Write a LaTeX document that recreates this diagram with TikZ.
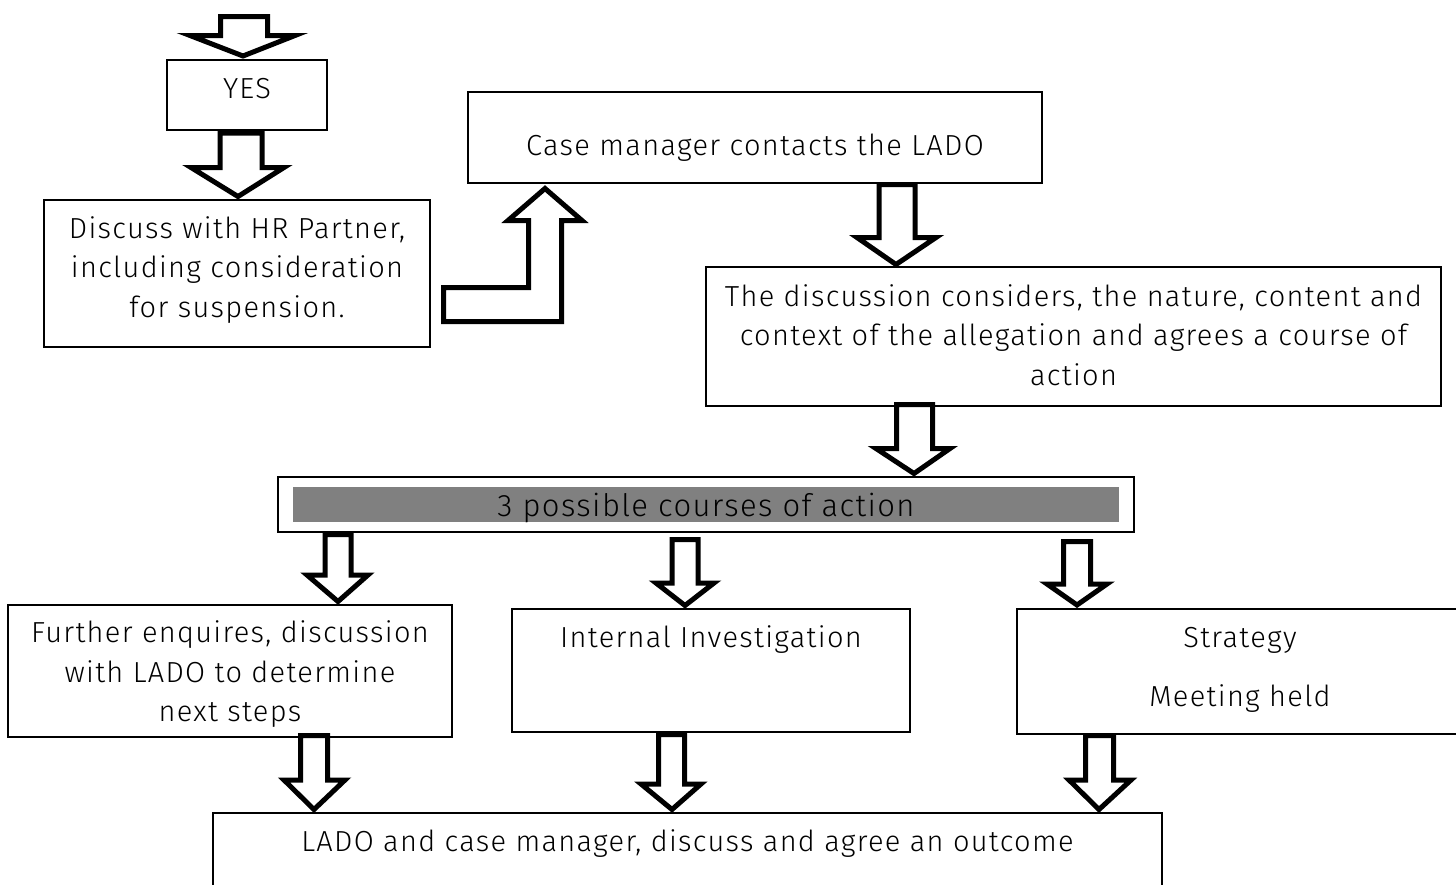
\documentclass[tikz,border=0pt]{standalone}
\usepackage{fontspec}
\setmainfont[LetterSpace=4.5]{Fira Sans Light}
\definecolor{barfill}{RGB}{128,128,128}
\newcommand\bdown[8]{\draw[barrow] (#1,#3) -- (#2,#3) -- (#2,#4) -- (#6,#4) -- (#7,#8) -- (#5,#4) -- (#1,#4) -- cycle;}
\begin{document}
\begin{tikzpicture}[x=1pt,y=-1pt,
  box/.style={draw,line width=1.3pt,inner sep=0pt,outer sep=0pt,fill=white},
  txt/.style={inner sep=0pt,anchor=base,align=center,font=\fontsize{29}{39.5}\selectfont},
  barrow/.style={draw,line width=5pt,line join=miter,miter limit=20,fill=white}]
\useasboundingbox (0,0) rectangle (1456,884);
\clip (0,0) rectangle (1456,884);
\fill[white] (0,0) rectangle (1456,884);
% boxes
\node[box,minimum width=160pt,minimum height=70pt] (yes) at (247,95) {};
\node[box,minimum width=386pt,minimum height=147pt] (discuss) at (237,273.5) {};
\node[box,minimum width=574pt,minimum height=91pt] (case) at (755,137.5) {};
\node[box,minimum width=735pt,minimum height=139pt] (discn) at (1073.5,336.5) {};
\node[box,minimum width=856pt,minimum height=55pt] (three) at (706,504.5) {};
\node[draw=none,fill=barfill,inner sep=0pt,minimum width=826pt,minimum height=35pt] (bar) at (706,504.5) {};
\node[box,minimum width=444pt,minimum height=132pt] (further) at (230,671) {};
\node[box,minimum width=398pt,minimum height=123pt] (internal) at (711,670.5) {};
\node[box,minimum width=446pt,minimum height=125pt] (strategy) at (1240,671.5) {};
\node[box,minimum width=949pt,minimum height=87pt] (lado) at (687.5,856.5) {};
% texts (base anchor = baseline of last line)
\node[txt] (tyes) at (247,98) {YES};
\node[txt] (tdiscuss) at (237,317) {Discuss with HR Partner,\\including consideration\\for suspension.};
\node[txt] (tcase) at (755,155) {Case manager contacts the LADO};
\node[txt] (tdiscn) at (1073.5,385) {The discussion considers, the nature, content and\\context of the allegation and agrees a course of\\action};
\node[txt,font=\fontsize{31}{34}\selectfont] (tthree) at (706,516.5) {3 possible courses of action};
\node[txt] (tfurther) at (230,721.5) {Further enquires, discussion\\with LADO to determine\\next steps};
\node[txt] (tinternal) at (711,647.5) {Internal Investigation};
\node[txt,font=\fontsize{29}{59}\selectfont] (tstrategy) at (1240,706.5) {Strategy\\Meeting held};
\node[txt] (tlado) at (687.5,851.5) {LADO and case manager, discuss and agree an outcome};
% block arrows
\bdown{220.5}{267.5}{16.5}{35.5}{190}{295}{243}{56}
\bdown{220}{262}{133}{167.5}{191}{284}{238}{196.5}
\bdown{879}{915}{184.5}{237.5}{857}{936}{896}{264.5}
\bdown{896.5}{932.5}{404.5}{448.5}{876}{950}{914}{473.5}
\bdown{325}{351}{534.5}{575}{307}{368}{338}{601.5}
\bdown{300.5}{327.5}{735.5}{780}{284}{345}{314}{809.5}
\bdown{672}{698}{539.5}{583}{656}{714}{685}{605.5}
\bdown{658.5}{684.5}{734.5}{784}{641}{701}{672}{809.5}
\bdown{1063.5}{1090.5}{541.5}{584}{1047}{1107}{1077}{605}
\bdown{1085.5}{1113.5}{735.5}{780}{1069}{1131}{1099}{809.5}
% L-shaped arrow
\draw[barrow] (443.5,321.5) -- (561.5,321.5) -- (561.5,220.5) -- (582,220.5) -- (545,188.5) -- (508,220.5) -- (528.5,220.5) -- (528.5,287.5) -- (443.5,287.5) -- cycle;
\end{tikzpicture}
\end{document}
